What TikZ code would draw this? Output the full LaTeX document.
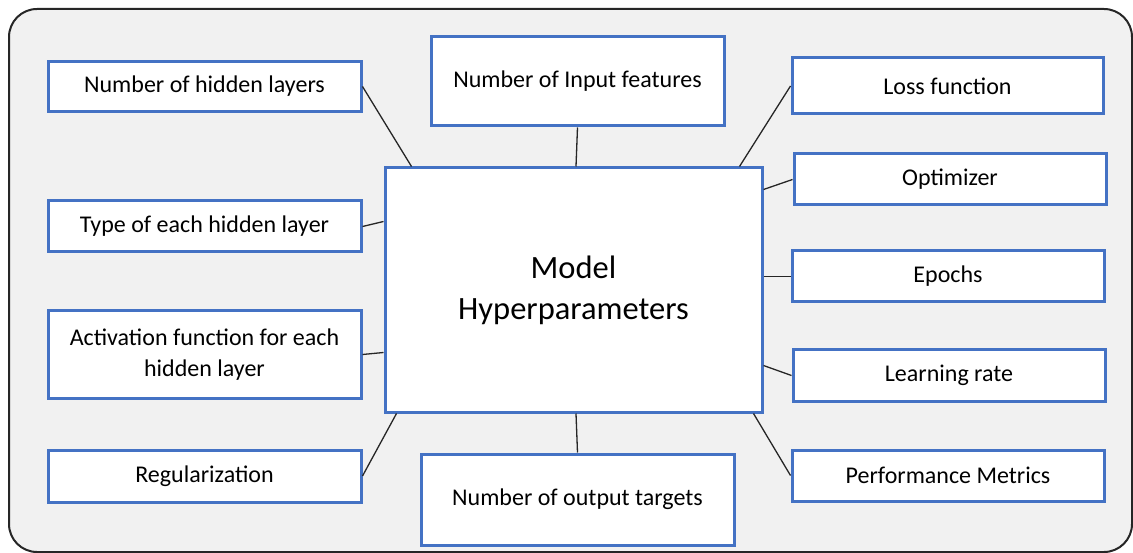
\documentclass[tikz,border=0pt]{standalone}
\usepackage{fontspec}
\setmainfont{Carlito}
\usetikzlibrary{positioning}
\definecolor{boxblue}{HTML}{4472C4}
\definecolor{panel}{HTML}{F1F1F1}
\definecolor{framegray}{HTML}{262626}
\tikzset{
  param/.style={draw=boxblue, line width=3pt, fill=white, inner sep=2pt,
    align=center, font=\fontsize{24}{31}\selectfont},
  hub/.style={param, font=\fontsize{32.5}{41}\selectfont},
  link/.style={draw=black!85, line width=1.3pt}
}
\begin{document}
\begin{tikzpicture}[x=1pt,y=-1pt]
  \useasboundingbox (0,0) rectangle (1133,553);
  % outer panel
  \draw[framegray, line width=2pt, fill=panel, rounded corners=28pt]
    (9,9) rectangle (1132,552);

  % central node
  \node[hub, minimum width=377pt, minimum height=244pt] (main) at (573.5,290)
    {Model\\Hyperparameters};

  % left column
  \node[param, minimum width=313pt, minimum height=50pt] (hid) at (204.5,86.5)
    {Number of hidden layers};
  \node[param, minimum width=313pt, minimum height=51pt] (type) at (204.5,226.5)
    {Type of each hidden layer};
  \node[param, minimum width=313pt, minimum height=87pt] (act) at (204.5,354.5)
    {Activation function for each\\hidden layer};
  \node[param, minimum width=313pt, minimum height=52pt] (reg) at (204.5,476)
    {Regularization};

  % top and bottom
  \node[param, minimum width=293pt, minimum height=89pt] (inp) at (577.5,81.5)
    {Number of Input features};
  \node[param, minimum width=313pt, minimum height=91pt] (out) at (577.5,499.5)
    {Number of output targets};

  % right column
  \node[param, minimum width=311pt, minimum height=56pt] (loss) at (947.5,86)
    {Loss function};
  \node[param, minimum width=312pt, minimum height=51pt] (opt) at (950,179.5)
    {Optimizer};
  \node[param, minimum width=312pt, minimum height=51pt] (ep) at (948,276.5)
    {Epochs};
  \node[param, minimum width=312pt, minimum height=51pt] (lr) at (949,375.5)
    {Learning rate};
  \node[param, minimum width=312pt, minimum height=51pt] (perf) at (948,475.5)
    {Performance Metrics};

  % connectors
  \draw[link] (hid.east) -- ([xshift=28pt]main.north west);
  \draw[link] (type.east) -- ([yshift=-55pt]main.north west);
  \draw[link] (act.east) -- ([yshift=61pt]main.south west);
  \draw[link] (reg.east) -- ([xshift=13pt]main.south west);
  \draw[link] (inp.south) -- ([xshift=2.5pt]main.north);
  \draw[link] (out.north) -- ([xshift=2.5pt]main.south);
  \draw[link] (loss.west) -- ([xshift=-24pt]main.north east);
  \draw[link] (opt.west) -- ([yshift=-23pt]main.north east);
  \draw[link] (ep.west) -- (ep.west -| main.east);
  \draw[link] (lr.west) -- ([yshift=48pt]main.south east);
  \draw[link] (perf.west) -- ([xshift=-10pt]main.south east);
\end{tikzpicture}
\end{document}
